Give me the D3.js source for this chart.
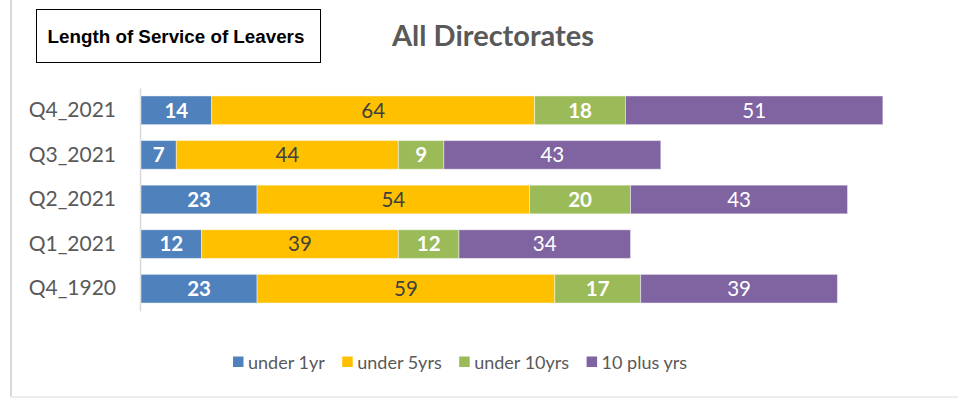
<!DOCTYPE html>
<html>
<head>
<meta charset="utf-8">
<script src="https://cdn.jsdelivr.net/npm/d3@7"></script>
<style>
  html, body { margin: 0; padding: 0; background: #fff; }
  svg { display: block; }
</style>
</head>
<body>
<svg id="chart" width="958" height="398"></svg>
<script>
// Leavers by length of service, per quarter
const quarters = ["Q4_2021", "Q3_2021", "Q2_2021", "Q1_2021", "Q4_1920"];
const seriesNames = ["under 1yr", "under 5yrs", "under 10yrs", "10 plus yrs"];
const under1yr   = [14, 7, 23, 12, 23];
const under5yrs  = [64, 44, 54, 39, 59];
const under10yrs = [18, 9, 20, 12, 17];
const plus10yrs  = [51, 43, 43, 34, 39];

const colors = ["#4F81BD", "#FFC000", "#9BBB59", "#8064A2"];
const labelFill = ["#ffffff", "#404040", "#ffffff", "#ffffff"];
const labelWeight = ["bold", "normal", "bold", "normal"];

const rows = quarters.map((q, i) => ({
  quarter: q,
  "under 1yr": under1yr[i],
  "under 5yrs": under5yrs[i],
  "under 10yrs": under10yrs[i],
  "10 plus yrs": plus10yrs[i]
}));

const stacked = d3.stack().keys(seriesNames)(rows);

const svg = d3.select("#chart");
const font = "Lato, 'Open Sans', sans-serif";

// chart area frame (left and bottom edges)
svg.append("line").attr("x1", 11).attr("x2", 11).attr("y1", 0).attr("y2", 397)
  .attr("stroke", "#d9d9d9").attr("stroke-width", 2);
svg.append("line").attr("x1", 10).attr("x2", 958).attr("y1", 397).attr("y2", 397)
  .attr("stroke", "#ececec").attr("stroke-width", 2);

// headings
svg.append("rect").attr("x", 36.5).attr("y", 9.5).attr("width", 284).attr("height", 53)
  .attr("fill", "#fff").attr("stroke", "#000").attr("stroke-width", 1);
svg.append("text").attr("x", 176).attr("y", 43)
  .attr("text-anchor", "middle")
  .attr("font-family", "'Liberation Sans', Arial, sans-serif")
  .attr("font-weight", "bold").attr("font-size", 18.8).attr("fill", "#000")
  .text("Length of Service of Leavers");
svg.append("text").attr("x", 392).attr("y", 46)
  .attr("font-family", font).attr("font-weight", "bold")
  .attr("font-size", 29).attr("fill", "#595959")
  .text("All Directorates");

const x = d3.scaleLinear().domain([0, 150]).range([141, 898]);
const y = d3.scaleBand().domain(quarters).range([88, 311])
  .paddingInner(0.357).paddingOuter(0.1785);

// category axis
const yAxis = svg.append("g").attr("transform", "translate(140,0)")
  .call(d3.axisLeft(y).tickSize(0).tickPadding(24));
yAxis.select(".domain").attr("stroke", "#d9d9d9").attr("stroke-width", 1.5);
yAxis.selectAll("text").attr("font-family", font).attr("font-size", 21)
  .attr("fill", "#595959");

// stacked bars
const layer = svg.append("g").selectAll("g").data(stacked).join("g")
  .attr("fill", (d, i) => colors[i]);

layer.selectAll("rect").data(d => d).join("rect")
  .attr("x", d => x(d[0]))
  .attr("y", d => y(d.data.quarter))
  .attr("width", d => x(d[1]) - x(d[0]))
  .attr("height", y.bandwidth())
  .attr("stroke", "#ffffff").attr("stroke-opacity", 0.45).attr("stroke-width", 1);

// value labels
stacked.forEach((s, si) => {
  svg.append("g").selectAll("text").data(s).join("text")
    .attr("x", d => (x(d[0]) + x(d[1])) / 2)
    .attr("y", d => y(d.data.quarter) + y.bandwidth() / 2)
    .attr("dy", "0.36em")
    .attr("text-anchor", "middle")
    .attr("font-family", font)
    .attr("font-size", 20.5)
    .attr("font-weight", labelWeight[si])
    .attr("fill", labelFill[si])
    .text(d => d[1] - d[0]);
});

// legend
const legendGap = 17.5;
const legend = svg.append("g");
let lx = 0;
seriesNames.forEach((name, i) => {
  const g = legend.append("g").attr("transform", `translate(${lx},0)`);
  g.append("rect").attr("x", 0).attr("y", 356.5).attr("width", 10.5).attr("height", 10.5)
    .attr("fill", colors[i]);
  const t = g.append("text").attr("x", 15).attr("y", 368.5)
    .attr("font-family", font).attr("font-size", 18).attr("fill", "#595959")
    .text(name);
  lx += 15 + t.node().getComputedTextLength() + legendGap;
});
const legendWidth = lx - legendGap;
legend.attr("transform", `translate(${460 - legendWidth / 2},0)`);
</script>
</body>
</html>
